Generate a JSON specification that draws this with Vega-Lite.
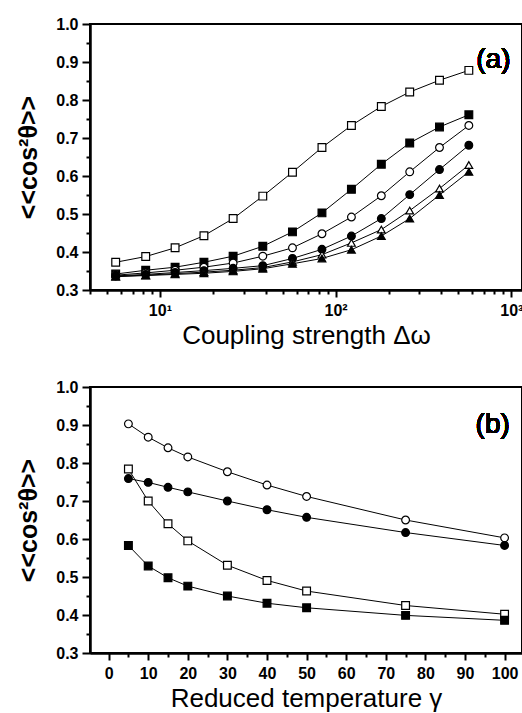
{
  "$schema": "https://vega.github.io/schema/vega-lite/v6.json",
  "background": "white",
  "padding": {"left": 15, "top": 15, "right": 0, "bottom": 0},
  "config": {
    "font": "Liberation Sans",
    "view": {"stroke": "black", "strokeWidth": 2},
    "axis": {
      "grid": false,
      "ticks": true,
      "domain": true,
      "domainColor": "black",
      "domainWidth": 2,
      "tickColor": "black",
      "tickWidth": 2,
      "labelColor": "black",
      "labelFont": "Liberation Sans",
      "labelFontSize": 16,
      "labelFontWeight": "bold",
      "labelOverlap": false,
      "labelFlush": false,
      "titleColor": "black",
      "titleFont": "Liberation Sans"
    },
    "concat": {"spacing": 29}
  },
  "datasets": {
    "a": [
      {"x": 5.6, "y": 0.373, "series": "os"}, {"x": 8.3, "y": 0.388, "series": "os"}, {"x": 12.2, "y": 0.411, "series": "os"}, {"x": 17.8, "y": 0.443, "series": "os"}, {"x": 26.1, "y": 0.488, "series": "os"}, {"x": 38.5, "y": 0.547, "series": "os"}, {"x": 56.8, "y": 0.610, "series": "os"}, {"x": 83.6, "y": 0.675, "series": "os"}, {"x": 123, "y": 0.733, "series": "os"}, {"x": 182, "y": 0.783, "series": "os"}, {"x": 264, "y": 0.821, "series": "os"}, {"x": 390, "y": 0.852, "series": "os"}, {"x": 573, "y": 0.878, "series": "os"},
      {"x": 5.6, "y": 0.342, "series": "fs"}, {"x": 8.3, "y": 0.352, "series": "fs"}, {"x": 12.2, "y": 0.360, "series": "fs"}, {"x": 17.8, "y": 0.373, "series": "fs"}, {"x": 26.1, "y": 0.389, "series": "fs"}, {"x": 38.5, "y": 0.415, "series": "fs"}, {"x": 56.8, "y": 0.453, "series": "fs"}, {"x": 83.6, "y": 0.503, "series": "fs"}, {"x": 123, "y": 0.565, "series": "fs"}, {"x": 182, "y": 0.631, "series": "fs"}, {"x": 264, "y": 0.687, "series": "fs"}, {"x": 390, "y": 0.729, "series": "fs"}, {"x": 573, "y": 0.761, "series": "fs"},
      {"x": 5.6, "y": 0.339, "series": "oc"}, {"x": 8.3, "y": 0.345, "series": "oc"}, {"x": 12.2, "y": 0.352, "series": "oc"}, {"x": 17.8, "y": 0.360, "series": "oc"}, {"x": 26.1, "y": 0.371, "series": "oc"}, {"x": 38.5, "y": 0.389, "series": "oc"}, {"x": 56.8, "y": 0.411, "series": "oc"}, {"x": 83.6, "y": 0.448, "series": "oc"}, {"x": 123, "y": 0.492, "series": "oc"}, {"x": 182, "y": 0.548, "series": "oc"}, {"x": 264, "y": 0.611, "series": "oc"}, {"x": 390, "y": 0.675, "series": "oc"}, {"x": 573, "y": 0.733, "series": "oc"},
      {"x": 5.6, "y": 0.337, "series": "fc"}, {"x": 8.3, "y": 0.341, "series": "fc"}, {"x": 12.2, "y": 0.346, "series": "fc"}, {"x": 17.8, "y": 0.351, "series": "fc"}, {"x": 26.1, "y": 0.357, "series": "fc"}, {"x": 38.5, "y": 0.364, "series": "fc"}, {"x": 56.8, "y": 0.383, "series": "fc"}, {"x": 83.6, "y": 0.407, "series": "fc"}, {"x": 123, "y": 0.442, "series": "fc"}, {"x": 182, "y": 0.488, "series": "fc"}, {"x": 264, "y": 0.551, "series": "fc"}, {"x": 390, "y": 0.617, "series": "fc"}, {"x": 573, "y": 0.681, "series": "fc"},
      {"x": 5.6, "y": 0.336, "series": "ot"}, {"x": 8.3, "y": 0.339, "series": "ot"}, {"x": 12.2, "y": 0.343, "series": "ot"}, {"x": 17.8, "y": 0.347, "series": "ot"}, {"x": 26.1, "y": 0.352, "series": "ot"}, {"x": 38.5, "y": 0.359, "series": "ot"}, {"x": 56.8, "y": 0.374, "series": "ot"}, {"x": 83.6, "y": 0.393, "series": "ot"}, {"x": 123, "y": 0.424, "series": "ot"}, {"x": 182, "y": 0.459, "series": "ot"}, {"x": 264, "y": 0.509, "series": "ot"}, {"x": 390, "y": 0.567, "series": "ot"}, {"x": 573, "y": 0.629, "series": "ot"},
      {"x": 5.6, "y": 0.335, "series": "ft"}, {"x": 8.3, "y": 0.338, "series": "ft"}, {"x": 12.2, "y": 0.341, "series": "ft"}, {"x": 17.8, "y": 0.344, "series": "ft"}, {"x": 26.1, "y": 0.349, "series": "ft"}, {"x": 38.5, "y": 0.356, "series": "ft"}, {"x": 56.8, "y": 0.369, "series": "ft"}, {"x": 83.6, "y": 0.383, "series": "ft"}, {"x": 123, "y": 0.406, "series": "ft"}, {"x": 182, "y": 0.442, "series": "ft"}, {"x": 264, "y": 0.488, "series": "ft"}, {"x": 390, "y": 0.550, "series": "ft"}, {"x": 573, "y": 0.611, "series": "ft"}
    ],
    "b": [
      {"x": 5, "y": 0.903, "series": "oc"}, {"x": 10, "y": 0.868, "series": "oc"}, {"x": 15, "y": 0.840, "series": "oc"}, {"x": 20, "y": 0.816, "series": "oc"}, {"x": 30, "y": 0.777, "series": "oc"}, {"x": 40, "y": 0.742, "series": "oc"}, {"x": 50, "y": 0.712, "series": "oc"}, {"x": 75, "y": 0.650, "series": "oc"}, {"x": 100, "y": 0.603, "series": "oc"},
      {"x": 5, "y": 0.759, "series": "fc"}, {"x": 10, "y": 0.749, "series": "fc"}, {"x": 15, "y": 0.736, "series": "fc"}, {"x": 20, "y": 0.724, "series": "fc"}, {"x": 30, "y": 0.700, "series": "fc"}, {"x": 40, "y": 0.677, "series": "fc"}, {"x": 50, "y": 0.657, "series": "fc"}, {"x": 75, "y": 0.617, "series": "fc"}, {"x": 100, "y": 0.583, "series": "fc"},
      {"x": 5, "y": 0.784, "series": "os"}, {"x": 10, "y": 0.700, "series": "os"}, {"x": 15, "y": 0.640, "series": "os"}, {"x": 20, "y": 0.595, "series": "os"}, {"x": 30, "y": 0.531, "series": "os"}, {"x": 40, "y": 0.491, "series": "os"}, {"x": 50, "y": 0.463, "series": "os"}, {"x": 75, "y": 0.425, "series": "os"}, {"x": 100, "y": 0.402, "series": "os"},
      {"x": 5, "y": 0.583, "series": "fs"}, {"x": 10, "y": 0.529, "series": "fs"}, {"x": 15, "y": 0.498, "series": "fs"}, {"x": 20, "y": 0.476, "series": "fs"}, {"x": 30, "y": 0.450, "series": "fs"}, {"x": 40, "y": 0.431, "series": "fs"}, {"x": 50, "y": 0.419, "series": "fs"}, {"x": 75, "y": 0.399, "series": "fs"}, {"x": 100, "y": 0.386, "series": "fs"}
    ]
  },
  "vconcat": [
    {
      "width": 432,
      "height": 266,
      "data": {"name": "a"},
      "resolve": {"axis": {"x": "independent", "y": "independent"}},
      "layer": [
        {
          "mark": {"type": "line", "color": "black", "strokeWidth": 1},
          "encoding": {
            "x": {
              "field": "x", "type": "quantitative",
              "scale": {"type": "log", "domain": [4, 1150], "nice": false, "zero": false},
              "axis": {"orient": "bottom", "title": null, "labels": false, "tickSize": 4, "values": [4,5,6,7,8,9,20,30,40,50,60,70,80,90,200,300,400,500,600,700,800,900]}
            },
            "y": {
              "field": "y", "type": "quantitative",
              "scale": {"domain": [0.3, 1.0], "nice": false, "zero": false},
              "axis": {"orient": "left", "title": null, "labels": false, "tickSize": 4, "values": [0.35,0.45,0.55,0.65,0.75,0.85,0.95]}
            },
            "detail": {"field": "series"}
          }
        },
        {
          "mark": {"type": "point", "filled": true, "stroke": "black", "strokeWidth": 1.2, "size": 60, "opacity": 1},
          "encoding": {
            "x": {
              "field": "x", "type": "quantitative",
              "axis": {
                "orient": "bottom",
                "title": "Coupling strength Δω",
                "titleFontSize": 26, "titleFontWeight": "normal", "titlePadding": 4,
                "values": [10, 100, 1000],
                "labelExpr": "datum.value == 10 ? '10¹' : datum.value == 100 ? '10²' : '10³'",
                "tickSize": 7,
                "labelPadding": 5
              }
            },
            "y": {
              "field": "y", "type": "quantitative",
              "axis": {
                "orient": "left",
                "title": "<<cos²θ>>",
                "titleFontSize": 25, "titleFontWeight": "bold", "titlePadding": 14,
                "values": [0.3,0.4,0.5,0.6,0.7,0.8,0.9,1.0],
                "format": ".1f",
                "tickSize": 8,
                "labelPadding": 4
              }
            },
            "shape": {"field": "series", "legend": null, "scale": {"domain": ["os","fs","oc","fc","ot","ft"], "range": ["square","square","circle","circle","triangle-up","triangle-up"]}},
            "fill": {"field": "series", "legend": null, "scale": {"domain": ["os","fs","oc","fc","ot","ft"], "range": ["white","black","white","black","white","black"]}}
          }
        },
        {
          "mark": {"type": "text", "text": "(a)", "fontSize": 28, "fontWeight": "normal", "font": "Liberation Sans", "color": "black"},
          "encoding": {"x": {"datum": 790, "axis": null}, "y": {"datum": 0.905, "axis": null}}
        }
      ]
    },
    {
      "width": 432,
      "height": 266,
      "data": {"name": "b"},
      "resolve": {"axis": {"x": "independent", "y": "independent"}},
      "layer": [
        {
          "mark": {"type": "line", "color": "black", "strokeWidth": 1},
          "encoding": {
            "x": {
              "field": "x", "type": "quantitative",
              "scale": {"domain": [-4.7, 104.4], "nice": false, "zero": false},
              "axis": {"orient": "bottom", "title": null, "labels": false, "tickSize": 4, "values": [5,15,25,35,45,55,65,75,85,95]}
            },
            "y": {
              "field": "y", "type": "quantitative",
              "scale": {"domain": [0.3, 1.0], "nice": false, "zero": false},
              "axis": {"orient": "left", "title": null, "labels": false, "tickSize": 4, "values": [0.35,0.45,0.55,0.65,0.75,0.85,0.95]}
            },
            "detail": {"field": "series"}
          }
        },
        {
          "mark": {"type": "point", "filled": true, "stroke": "black", "strokeWidth": 1.2, "size": 60, "opacity": 1},
          "encoding": {
            "x": {
              "field": "x", "type": "quantitative",
              "axis": {
                "orient": "bottom",
                "title": "Reduced temperature γ",
                "titleFontSize": 26, "titleFontWeight": "normal", "titlePadding": 4,
                "values": [0,10,20,30,40,50,60,70,80,90,100],
                "format": "d",
                "tickSize": 7,
                "labelPadding": 5
              }
            },
            "y": {
              "field": "y", "type": "quantitative",
              "axis": {
                "orient": "left",
                "title": "<<cos²θ>>",
                "titleFontSize": 25, "titleFontWeight": "bold", "titlePadding": 14,
                "values": [0.3,0.4,0.5,0.6,0.7,0.8,0.9,1.0],
                "format": ".1f",
                "tickSize": 8,
                "labelPadding": 4
              }
            },
            "shape": {"field": "series", "legend": null, "scale": {"domain": ["oc","fc","os","fs"], "range": ["circle","circle","square","square"]}},
            "fill": {"field": "series", "legend": null, "scale": {"domain": ["oc","fc","os","fs"], "range": ["white","black","white","black"]}}
          }
        },
        {
          "mark": {"type": "text", "text": "(b)", "fontSize": 28, "fontWeight": "normal", "font": "Liberation Sans", "color": "black"},
          "encoding": {"x": {"datum": 97, "axis": null}, "y": {"datum": 0.9, "axis": null}}
        }
      ]
    }
  ]
}
